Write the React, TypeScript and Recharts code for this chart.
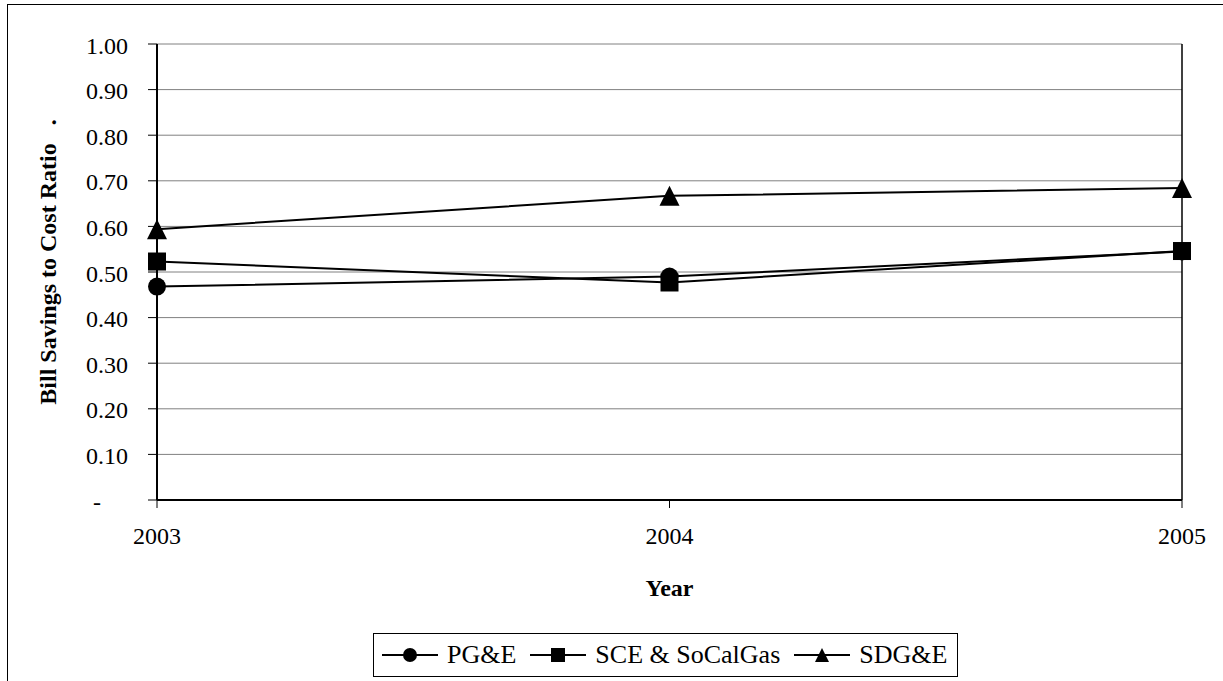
import { CartesianGrid, Legend, Line, LineChart, ReferenceLine, XAxis, YAxis } from 'recharts';

const years = ['2003', '2004', '2005'];
const pgeValues = [0.468, 0.49, 0.545];
const sceValues = [0.523, 0.477, 0.546];
const sdgeValues = [0.594, 0.667, 0.684];
const yTicks = [0, 0.1, 0.2, 0.3, 0.4, 0.5, 0.6, 0.7, 0.8, 0.9, 1];

const data = years.map((year, i) => ({
  year,
  pge: pgeValues[i],
  sce: sceValues[i],
  sdge: sdgeValues[i],
}));

const FONT = '"Liberation Serif", "Times New Roman", serif';

type Shape = 'circle' | 'square' | 'triangle';

const shapes: Record<string, Shape> = {
  pge: 'circle',
  sce: 'square',
  sdge: 'triangle',
};

const marker = (shape: Shape, cx: number, cy: number, s: number, key?: string) => {
  if (shape === 'circle') return <circle key={key} cx={cx} cy={cy} r={s / 2} fill="#000" />;
  if (shape === 'square')
    return <rect key={key} x={cx - s / 2} y={cy - s / 2} width={s} height={s} fill="#000" />;
  return (
    <polygon
      key={key}
      points={`${cx},${cy - s / 2} ${cx + s / 2},${cy + s / 2} ${cx - s / 2},${cy + s / 2}`}
      fill="#000"
    />
  );
};

const makeDot = (shape: Shape, size: number) => (props: any) =>
  marker(shape, props.cx, props.cy, size, `${shape}-${props.index}`);

const YTick = ({ x, y, payload }: any) => (
  <text
    x={payload.value === 0 ? x - 27 : x}
    y={y}
    dy="0.4em"
    textAnchor="end"
    fontSize={24}
    fontFamily={FONT}
    fill="#000"
  >
    {payload.value === 0 ? '-' : payload.value.toFixed(2)}
  </text>
);

const yTitle = (props: any) => {
  const vb = props.viewBox;
  const cx = 56;
  const cy = vb.y + vb.height / 2 - 10;
  return (
    <text
      x={cx}
      y={cy}
      transform={`rotate(-90, ${cx}, ${cy})`}
      textAnchor="middle"
      fontSize={24}
      fontWeight="bold"
      fontFamily={FONT}
      fill="#000"
      style={{ whiteSpace: 'pre' }}
    >
      {'Bill Savings to Cost Ratio   .'}
    </text>
  );
};

const xTitle = (props: any) => {
  const vb = props.viewBox;
  return (
    <text
      x={vb.x + vb.width / 2}
      y={vb.y + 96}
      textAnchor="middle"
      fontSize={24}
      fontWeight="bold"
      fontFamily={FONT}
      fill="#000"
    >
      Year
    </text>
  );
};

const LegendBox = ({ payload }: any) => (
  <div
    style={{
      display: 'flex',
      alignItems: 'center',
      height: 42,
      border: '1px solid #000',
      paddingLeft: 8,
      paddingRight: 10,
      fontFamily: FONT,
      fontSize: 26,
      color: '#000',
      whiteSpace: 'nowrap',
    }}
  >
    {(payload || []).map((entry: any, i: number) => (
      <span
        key={entry.dataKey}
        style={{ display: 'flex', alignItems: 'center', marginLeft: i === 0 ? 0 : 14 }}
      >
        <svg width={56} height={20}>
          <line x1={0} y1={10} x2={56} y2={10} stroke="#000" strokeWidth={2} />
          {marker(shapes[entry.dataKey], 28, 10, 14)}
        </svg>
        <span style={{ marginLeft: 9 }}>{entry.value}</span>
      </span>
    ))}
  </div>
);

export default function App() {
  return (
    <div
      style={{
        position: 'fixed',
        left: 0,
        top: 0,
        width: 1223,
        height: 681,
        background: '#fff',
        overflow: 'hidden',
      }}
    >
      <div
        style={{
          position: 'absolute',
          left: 7,
          top: 4,
          width: 1240,
          height: 700,
          border: '1px solid #000',
        }}
      />
      <LineChart
        width={1223}
        height={681}
        data={data}
        margin={{ top: 44, right: 41, left: 0, bottom: 77 }}
        style={{ position: 'absolute', left: 0, top: 0 }}
      >
        <CartesianGrid vertical={false} stroke="#808080" strokeWidth={1} />
        <XAxis
          dataKey="year"
          height={60}
          tickSize={8}
          tickMargin={19}
          axisLine={{ stroke: '#000', strokeWidth: 2 }}
          tickLine={{ stroke: '#000', strokeWidth: 1 }}
          tick={{ fontSize: 24, fontFamily: FONT, fill: '#000' }}
          label={xTitle}
        />
        <YAxis
          width={157}
          domain={[0, 1]}
          ticks={yTicks}
          interval={0}
          tickSize={9}
          tickMargin={20}
          axisLine={{ stroke: '#000', strokeWidth: 2 }}
          tickLine={{ stroke: '#000', strokeWidth: 1 }}
          tick={<YTick />}
          label={yTitle}
        />
        <ReferenceLine x="2005" stroke="#000" strokeWidth={1.5} />
        <Legend
          content={<LegendBox />}
          wrapperStyle={{ position: 'absolute', left: 373, top: 633, width: 'auto' }}
        />
        <Line
          dataKey="pge"
          name="PG&E"
          stroke="#000"
          strokeWidth={2}
          dot={makeDot('circle', 18)}
          isAnimationActive={false}
        />
        <Line
          dataKey="sce"
          name="SCE & SoCalGas"
          stroke="#000"
          strokeWidth={2}
          dot={makeDot('square', 18)}
          isAnimationActive={false}
        />
        <Line
          dataKey="sdge"
          name="SDG&E"
          stroke="#000"
          strokeWidth={2}
          dot={makeDot('triangle', 20)}
          isAnimationActive={false}
        />
      </LineChart>
    </div>
  );
}
